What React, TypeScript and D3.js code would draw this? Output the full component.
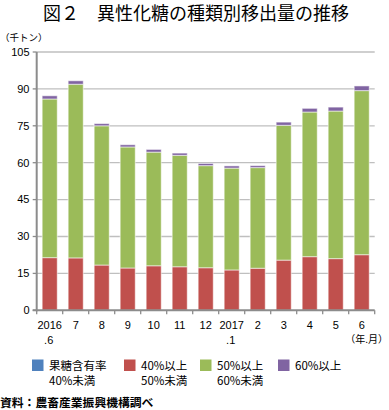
import React from "react";
import * as d3 from "d3";

const months = ["2016.6", "7", "8", "9", "10", "11", "12", "2017.1", "2", "3", "4", "5", "6"];
const labelLine1 = ["2016", "7", "8", "9", "10", "11", "12", "2017", "2", "3", "4", "5", "6"];
const labelLine2 = [".6", "", "", "", "", "", "", ".1", "", "", "", "", ""];
const below40 = [0, 0, 0, 0, 0, 0, 0, 0, 0, 0, 0, 0, 0];
const from40to50 = [21.4, 21.3, 18.4, 17.2, 18.1, 17.7, 17.3, 16.4, 17.1, 20.4, 21.8, 21.0, 22.6];
const from50to60 = [64.5, 70.6, 56.6, 49.2, 46.2, 45.3, 41.5, 41.4, 40.9, 54.8, 58.8, 60.0, 66.7];
const above60 = [1.3, 1.4, 0.9, 0.9, 1.1, 0.9, 0.9, 0.9, 0.8, 1.3, 1.5, 1.6, 1.9];
const yTicks = [0, 15, 30, 45, 60, 75, 90, 105];
const seriesNames = [["果糖含有率", "40%未満"], ["40%以上", "50%未満"], ["50%以上", "60%未満"], ["60%以上"]];
const colors = ["#4f81bd", "#c0504d", "#9bbb59", "#8064a2"];

const title = "図２　異性化糖の種類別移出量の推移";
const unitLabel = "（千トン）";
const xUnitLabel = "（年.月）";
const sourceLabel = "資料：農畜産業振興機構調べ";

const W = 389, H = 410;
const left = 36.7, right = 374.7, top = 52, bottom = 310.3;
const jp = "'Noto Sans CJK JP', 'Noto Sans', sans-serif";
const num = "'Liberation Sans', Arial, sans-serif";

export default function App() {
  const keys = ["b", "r", "g", "p"];
  const rows = months.map((m, i) => ({
    m,
    b: below40[i],
    r: from40to50[i],
    g: from50to60[i],
    p: above60[i],
  }));
  const stacked = d3.stack<any>().keys(keys)(rows);
  const x = d3.scaleBand<string>().domain(months).range([left, right]).paddingInner(0.42).paddingOuter(0.21);
  const y = d3.scaleLinear().domain([0, 105]).range([bottom, top]);
  const step = x.step();
  const legendX = [32, 124, 200, 278];

  return (
    <svg width={W} height={H} style={{ position: "absolute", left: 0, top: 0, background: "#fff" }}>
      <text x={43} y={20} fontFamily={jp} fontSize={18} fill="#000">{title}</text>
      <text x={0} y={41} fontFamily={jp} fontSize={9.5} fill="#000">{unitLabel}</text>
      {yTicks.map((t) => (
        <g key={t}>
          {t > 0 && (
            <line x1={left} x2={right} y1={y(t)} y2={y(t)} stroke="#bfbfbf" strokeWidth={1.3} />
          )}
          <line x1={left - 4} x2={left} y1={y(t)} y2={y(t)} stroke="#8c8c8c" strokeWidth={1.3} />
          <text x={29.5} y={y(t) + 3.8} textAnchor="end" fontFamily={num} fontSize={11} fill="#000">{t}</text>
        </g>
      ))}
      {stacked.map((s, si) => (
        <g key={si} fill={colors[si]}>
          {s.map((d: any, i: number) => {
            const h = y(d[0]) - y(d[1]);
            if (h <= 0) return null;
            return (
              <rect key={i} x={x(months[i])!} y={y(d[1])} width={x.bandwidth()} height={h}
                stroke="#ffffff" strokeOpacity={0.55} strokeWidth={1} />
            );
          })}
        </g>
      ))}
      <line x1={left} x2={left} y1={top} y2={bottom + 1} stroke="#8c8c8c" strokeWidth={2} />
      <line x1={left - 4} x2={right} y1={bottom} y2={bottom} stroke="#8c8c8c" strokeWidth={2} />
      {months.map((m, i) => (
        <line key={m} x1={left + step * (i + 1)} x2={left + step * (i + 1)} y1={bottom} y2={bottom + 4}
          stroke="#8c8c8c" strokeWidth={1.3} />
      ))}
      <line x1={left} x2={left} y1={bottom} y2={bottom + 4} stroke="#8c8c8c" strokeWidth={1.3} />
      {months.map((m, i) => {
        const cx = x(m)! + x.bandwidth() / 2;
        return (
          <g key={m}>
            <text x={cx} y={328.5} textAnchor="middle" fontFamily={num} fontSize={11} fill="#000">{labelLine1[i]}</text>
            {labelLine2[i] && (
              <text x={cx - 1} y={344} textAnchor="middle" fontFamily={num} fontSize={11} fill="#000">{labelLine2[i]}</text>
            )}
          </g>
        );
      })}
      <text x={388} y={343} textAnchor="end" fontFamily={jp} fontSize={10} fill="#000">{xUnitLabel}</text>
      {seriesNames.map((lines, i) => (
        <g key={i}>
          <rect x={legendX[i]} y={359.5} width={11.5} height={11.5} fill={colors[i]} />
          {lines.map((ln, j) => (
            <text key={j} x={legendX[i] + 17} y={369.5 + j * 15.5} fontFamily={jp} fontSize={11.5} fill="#000">{ln}</text>
          ))}
        </g>
      ))}
      <text x={0} y={407} fontFamily={jp} fontSize={11.8} fontWeight={700} fill="#000">{sourceLabel}</text>
    </svg>
  );
}
